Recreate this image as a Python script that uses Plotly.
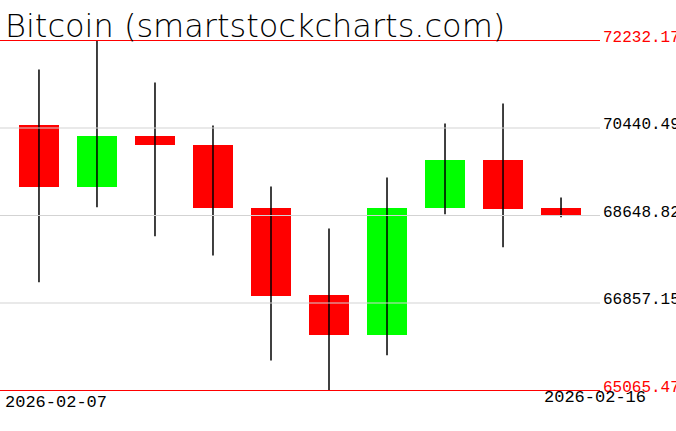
import plotly.graph_objects as go

dates = ["2026-02-07", "2026-02-08", "2026-02-09", "2026-02-10", "2026-02-11",
         "2026-02-12", "2026-02-13", "2026-02-14", "2026-02-15", "2026-02-16"]
opens  = [70512.2, 69228.3, 70286.9, 70102.6, 68812.6, 67031.2, 66197.8, 68798.3, 69795.5, 68798.3]
highs  = [71638.4, 72232.0, 71372.2, 70491.3, 69242.6, 68382.6, 69427.0, 70532.6, 70942.2, 69017.2]
lows   = [67283.1, 68818.4, 68225.0, 67829.8, 65679.8, 65065.5, 65788.3, 68675.4, 67999.6, 68614.0]
closes = [69228.3, 70286.9, 70088.3, 68798.3, 67010.7, 66197.8, 68812.6, 69795.5, 68777.8, 68648.8]

ytick_vals = [65065.47, 66857.15, 68648.82, 70440.49, 72232.17]
ytick_text = ["65065.47", "66857.15", "68648.82", "70440.49", "72232.17"]
xlabel_text = ["2026-02-07", "2026-02-16"]
title_text = "Bitcoin (smartstockcharts.com)"

UP = "#00ff00"
DOWN = "#ff0000"

fig = go.Figure()

# wicks
wx, wy = [], []
for d, lo, hi in zip(dates, lows, highs):
    wx += [d, d, None]
    wy += [lo, hi, None]
fig.add_trace(go.Scatter(x=wx, y=wy, mode="lines",
                         line=dict(color="black", width=1.5),
                         hoverinfo="skip", showlegend=False))

# bodies
base = [min(o, c) for o, c in zip(opens, closes)]
height = [abs(c - o) for o, c in zip(opens, closes)]
colors = [UP if c >= o else DOWN for o, c in zip(opens, closes)]
fig.add_trace(go.Bar(x=dates, y=height, base=base, width=0.69,
                     marker=dict(color=colors, line=dict(width=0)),
                     showlegend=False))

shapes = []
for i, v in enumerate(ytick_vals):
    edge = i == 0 or i == len(ytick_vals) - 1
    shapes.append(dict(type="line", xref="paper", x0=0, x1=1, yref="y", y0=v, y1=v,
                       line=dict(color=DOWN if edge else "#d3d3d3", width=1),
                       layer="above"))

annotations = []
for i, (v, t) in enumerate(zip(ytick_vals, ytick_text)):
    edge = i == 0 or i == len(ytick_vals) - 1
    annotations.append(dict(xref="paper", x=1, xanchor="left", xshift=1,
                            yref="y", y=v, yanchor="middle", yshift=3,
                            text=t, showarrow=False,
                            font=dict(family="Liberation Mono", size=16,
                                      color=DOWN if edge else "black")))

annotations.append(dict(xref="paper", x=0, xanchor="left", xshift=3,
                        yref="paper", y=0, yanchor="top", yshift=0,
                        text=xlabel_text[0], showarrow=False,
                        font=dict(family="Liberation Mono", size=17, color="black")))
annotations.append(dict(xref="paper", x=1, xanchor="right", xshift=48,
                        yref="paper", y=0, yanchor="top", yshift=5,
                        text=xlabel_text[1], showarrow=False,
                        font=dict(family="Liberation Mono", size=17, color="black")))
annotations.append(dict(xref="paper", x=0, xanchor="left", xshift=3,
                        yref="paper", y=1, yanchor="bottom", yshift=-7,
                        text=title_text, showarrow=False,
                        font=dict(family="DejaVu Sans", size=32, weight=200, color="black")))

span = ytick_vals[-1] - ytick_vals[0]
pad = 0.5 * span / 350.0

fig.update_layout(
    width=676, height=431,
    margin=dict(l=0, r=76, t=40, b=40),
    paper_bgcolor="white", plot_bgcolor="white",
    bargap=0,
    xaxis=dict(type="category", range=[-0.672, 9.672], showgrid=False,
               showticklabels=False, zeroline=False, showline=False, ticks=""),
    yaxis=dict(range=[ytick_vals[0] - pad, ytick_vals[-1] + pad], showgrid=False,
               showticklabels=False, zeroline=False, showline=False, ticks=""),
    shapes=shapes, annotations=annotations,
)

fig.write_html("out.html", config={"displayModeBar": False},
               post_script="document.body.style.margin='0';document.body.style.overflow='hidden';")
